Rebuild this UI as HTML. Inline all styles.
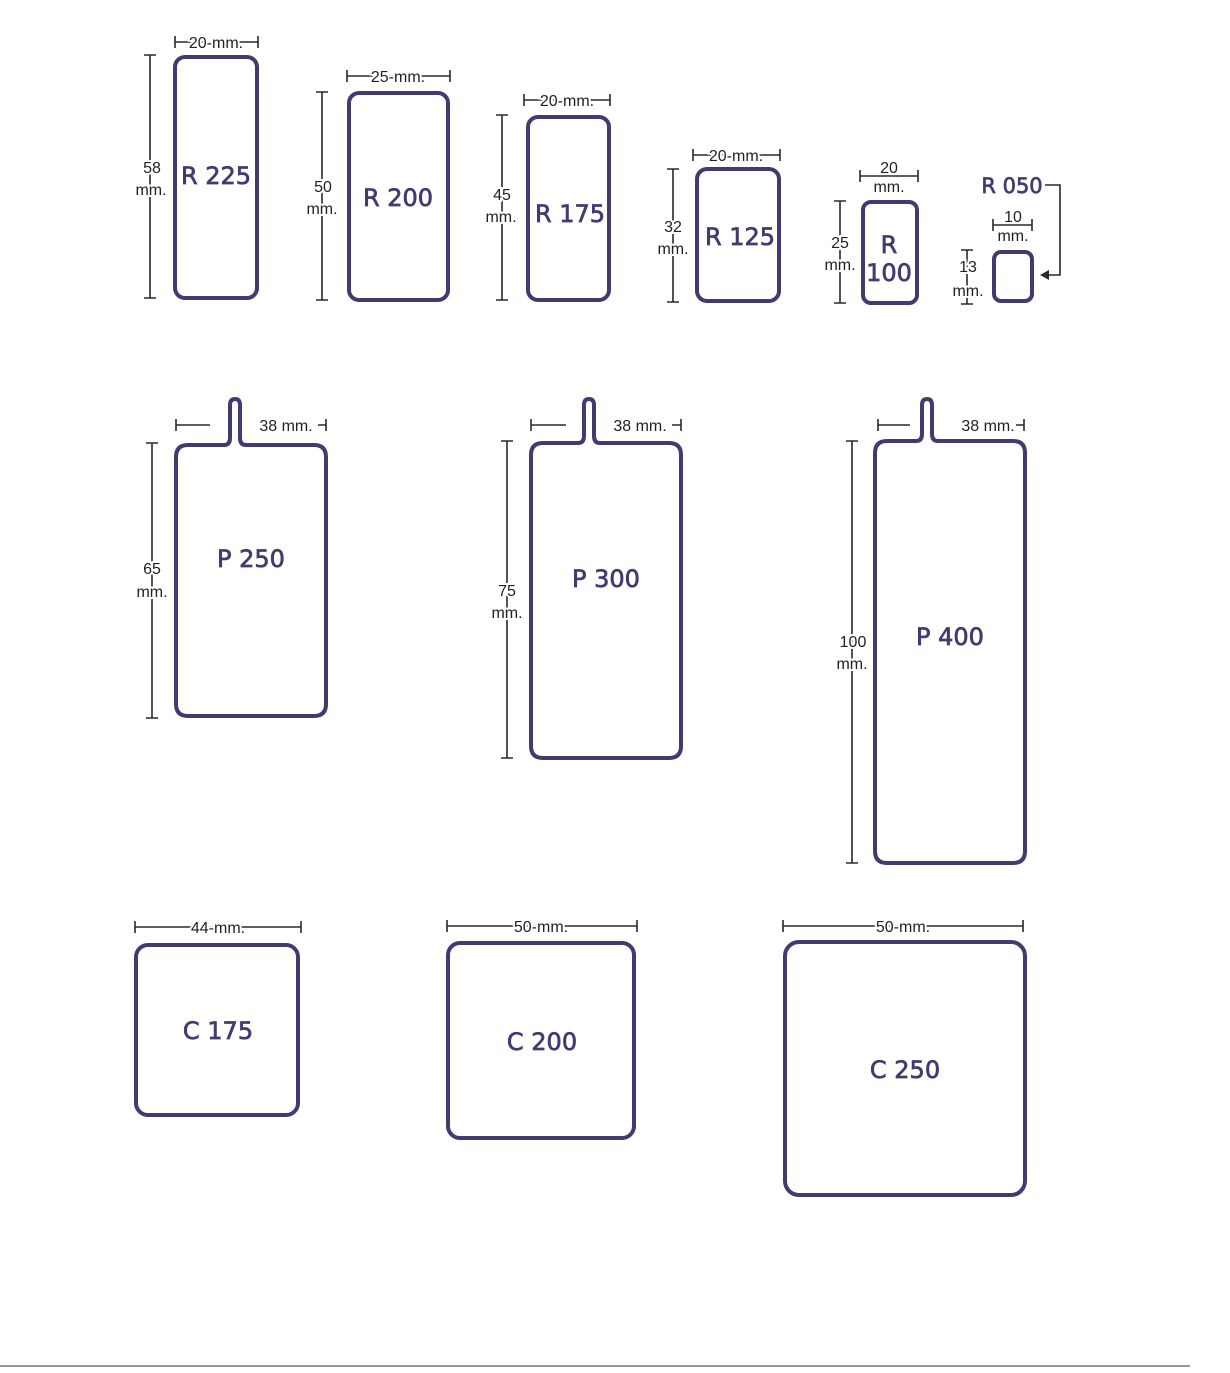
<!DOCTYPE html>
<html><head><meta charset="utf-8"><style>
html,body{margin:0;padding:0;background:#fff;}
svg{display:block}
.s{fill:none;stroke:#3f3c70;stroke-width:4}
.d{stroke:#2a2a2a;stroke-width:1.6;fill:none}
.t{font-family:"Liberation Sans",sans-serif;font-size:16px;fill:#222;text-anchor:middle;paint-order:stroke;stroke:#fff;stroke-width:4px}
.l{font-family:"DejaVu Sans","Liberation Sans",sans-serif;font-size:24px;fill:#3f3c70;stroke:#3f3c70;stroke-width:0.7px;text-anchor:middle}
</style></head><body>
<svg width="1230" height="1373" viewBox="0 0 1230 1373" xmlns="http://www.w3.org/2000/svg">
<rect width="1230" height="1373" fill="#fff"/>
<!-- R225 -->
<rect class="s" x="175" y="57" width="82" height="241" rx="10"/>
<path class="d" d="M150 55V298M144 55H156M144 298H156M175 42H258M175 36V48M258 36V48"/>
<text class="t" x="216" y="48">20-mm.</text>
<text class="t" x="152" y="173">58</text><text class="t" x="151" y="195">mm.</text>
<text class="l" x="216" y="184">R 225</text>
<!-- R200 -->
<rect class="s" x="349" y="93" width="99" height="207" rx="10"/>
<path class="d" d="M322 92V300M316 92H328M316 300H328M347 76H450M347 70V82M450 70V82"/>
<text class="t" x="398" y="82">25-mm.</text>
<text class="t" x="323" y="192">50</text><text class="t" x="322" y="214">mm.</text>
<text class="l" x="398" y="206">R 200</text>
<!-- R175 -->
<rect class="s" x="528" y="117" width="81" height="183" rx="10"/>
<path class="d" d="M502 115V300M496 115H508M496 300H508M524 100H610M524 94V106M610 94V106"/>
<text class="t" x="567" y="106">20-mm.</text>
<text class="t" x="502" y="200">45</text><text class="t" x="501" y="222">mm.</text>
<text class="l" x="570" y="222">R 175</text>
<!-- R125 -->
<rect class="s" x="697" y="169" width="82" height="132" rx="10"/>
<path class="d" d="M673 169V302M667 169H679M667 302H679M693 155H780M693 149V161M780 149V161"/>
<text class="t" x="736" y="161">20-mm.</text>
<text class="t" x="673" y="232">32</text><text class="t" x="673" y="254">mm.</text>
<text class="l" x="740" y="245">R 125</text>
<!-- R100 -->
<rect class="s" x="863" y="202" width="54" height="101" rx="8"/>
<path class="d" d="M840 201V303M834 201H846M834 303H846M860 176H918M860 170V182M918 170V182"/>
<text class="t" x="889" y="173" style="stroke-width:0">20</text><text class="t" x="889" y="192" style="stroke-width:0">mm.</text>
<text class="t" x="840" y="248">25</text><text class="t" x="840" y="270">mm.</text>
<text class="l" x="889" y="253">R</text><text class="l" x="889" y="281">100</text>
<!-- R050 -->
<rect class="s" x="994" y="252" width="38" height="49" rx="7"/>
<path class="d" d="M967 250V304M961 250H973M961 304H973M993 225H1032M993 219V231M1032 219V231"/>
<text class="t" x="1013" y="222" style="stroke-width:0">10</text><text class="t" x="1013" y="241" style="stroke-width:0">mm.</text>
<text class="t" x="968" y="272">13</text><text class="t" x="968" y="296">mm.</text>
<text class="l" x="1012" y="193" style="font-size:21px">R 050</text>
<path class="d" d="M1045 185H1060V275H1042"/>
<path d="M1040 275L1049 270V280Z" fill="#2a2a2a"/>
<!-- P250 -->
<path class="s" d="M188 445H224Q230 445 230 438V405Q230 399 235 399Q240 399 240 405V438Q240 445 246 445H314Q326 445 326 457V704Q326 716 314 716H188Q176 716 176 704V457Q176 445 188 445Z"/>
<path class="d" d="M176 425H210M176 419V431M318 425H326M326 419V431"/>
<text class="t" x="286" y="431" style="stroke-width:0">38 mm.</text>
<path class="d" d="M152 443V718M146 443H158M146 718H158"/>
<text class="t" x="152" y="574">65</text><text class="t" x="152" y="597">mm.</text>
<text class="l" x="251" y="567">P 250</text>
<!-- P300 -->
<path class="s" d="M543 443H578Q584 443 584 436V405Q584 399 589 399Q594 399 594 405V436Q594 443 600 443H669Q681 443 681 455V746Q681 758 669 758H543Q531 758 531 746V455Q531 443 543 443Z"/>
<path class="d" d="M531 425H566M531 419V431M672 425H681M681 419V431"/>
<text class="t" x="640" y="431" style="stroke-width:0">38 mm.</text>
<path class="d" d="M507 441V758M501 441H513M501 758H513"/>
<text class="t" x="507" y="596">75</text><text class="t" x="507" y="618">mm.</text>
<text class="l" x="606" y="587">P 300</text>
<!-- P400 -->
<path class="s" d="M887 441H916Q922 441 922 434V405Q922 399 927 399Q932 399 932 405V434Q932 441 938 441H1013Q1025 441 1025 453V851Q1025 863 1013 863H887Q875 863 875 851V453Q875 441 887 441Z"/>
<path class="d" d="M878 425H910M878 419V431M1016 425H1024M1024 419V431"/>
<text class="t" x="988" y="431" style="stroke-width:0">38 mm.</text>
<path class="d" d="M852 441V863M846 441H858M846 863H858"/>
<text class="t" x="853" y="647">100</text><text class="t" x="852" y="669">mm.</text>
<text class="l" x="950" y="645">P 400</text>
<!-- C175 -->
<rect class="s" x="136" y="945" width="162" height="170" rx="12"/>
<path class="d" d="M135 927H301M135 921V933M301 921V933"/>
<text class="t" x="218" y="933">44-mm.</text>
<text class="l" x="218" y="1039">C 175</text>
<!-- C200 -->
<rect class="s" x="448" y="943" width="186" height="195" rx="12"/>
<path class="d" d="M447 926H637M447 920V932M637 920V932"/>
<text class="t" x="541" y="932">50-mm.</text>
<text class="l" x="542" y="1050">C 200</text>
<!-- C250 -->
<rect class="s" x="785" y="942" width="240" height="253" rx="14"/>
<path class="d" d="M783 926H1023M783 920V932M1023 920V932"/>
<text class="t" x="903" y="932">50-mm.</text>
<text class="l" x="905" y="1078">C 250</text>
<path d="M0 1366H1190" stroke="#999" stroke-width="2"/>
</svg>
</body></html>
